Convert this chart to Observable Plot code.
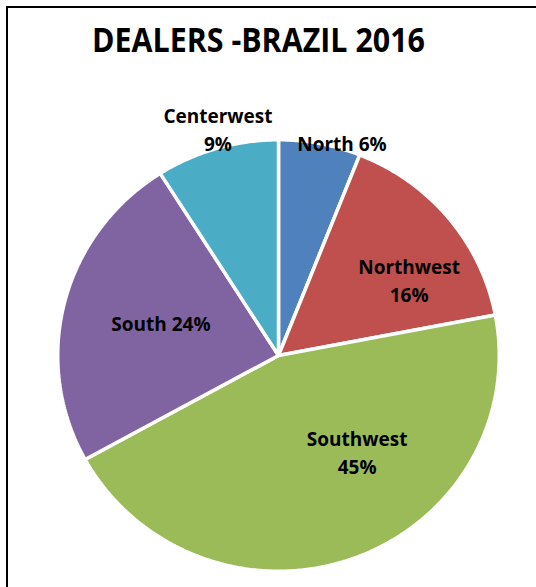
<!DOCTYPE html>
<html>
<head>
<meta charset="utf-8">
<script src="https://cdn.jsdelivr.net/npm/d3@7"></script>
<script src="https://cdn.jsdelivr.net/npm/@observablehq/plot@0.6"></script>
<style>
  html, body { margin: 0; padding: 0; background: #fff; overflow: hidden; width: 536px; height: 587px; }
  #frame { position: absolute; left: 6px; top: 6px; width: 700px; height: 700px;
           border-left: 2px solid #000; border-top: 2px solid #000; }
  #title { position: absolute; left: 0; top: 22px; width: 516px; text-align: center;
           font-family: "Open Sans", sans-serif; font-weight: 700; font-size: 33.5px; line-height: 34px;
           color: #000; white-space: nowrap; }
  #title span { display: inline-block; transform-origin: center; }
  #chart { position: absolute; left: 0; top: 0; }
</style>
</head>
<body>
<div id="frame"></div>
<div id="title"><span>DEALERS -BRAZIL 2016</span></div>
<div id="chart"></div>
<script>
// ---- data ----
const regions = ["North", "Northwest", "Southwest", "South", "Centerwest"];
const shares = [6, 16, 45, 24, 9];
const colors = ["#4F81BD", "#C0504D", "#9BBB59", "#8064A2", "#4BACC6"];
const labelStacked = [false, true, true, false, true];
// label placement (fraction of a turn clockwise from 12 o'clock, radius in pie radii)
const labelTurn = [0.045, 0.1645, 0.392, 0.795, 0.9595];
const labelRadius = [1.039, 0.694, 0.572, 0.559, 1.098];

// ---- geometry derived from data ----
const total = d3.sum(shares);
const R = 1.008;
const wedgePoints = [];
let cum = 0;
regions.forEach((region, i) => {
  const start = cum / total, end = (cum + shares[i]) / total;
  cum += shares[i];
  wedgePoints.push({region, x: 0, y: 0});
  const n = Math.max(2, Math.ceil((end - start) * 720));
  for (let k = 0; k <= n; k++) {
    const a = 2 * Math.PI * (start + (end - start) * k / n);
    wedgePoints.push({region, x: R * Math.sin(a), y: R * Math.cos(a)});
  }
});
const labels = regions.map((region, i) => {
  const a = 2 * Math.PI * labelTurn[i];
  return {
    region,
    text: labelStacked[i] ? `${region}\n${shares[i]}%` : `${region} ${shares[i]}%`,
    x: labelRadius[i] * Math.sin(a),
    y: labelRadius[i] * Math.cos(a)
  };
});

const cx = 278, cy = 355, rx = 219, ry = 214;
const chart = Plot.plot({
  width: 536,
  height: 587,
  margin: 0,
  x: {domain: [-1, 1], range: [cx - rx, cx + rx], axis: null},
  y: {domain: [-1, 1], range: [cy + ry, cy - ry], axis: null},
  color: {domain: regions, range: colors},
  style: {background: "transparent"},
  marks: [
    Plot.line(wedgePoints, {
      x: "x", y: "y", z: "region", fill: "region",
      stroke: "white", strokeWidth: 3.5, strokeLinejoin: "miter",
      curve: "linear-closed"
    }),
    Plot.text(labels, {
      x: "x", y: "y", text: "text",
      fontSize: 19, fontWeight: "bold", fontFamily: "Open Sans, sans-serif",
      fill: "black", lineHeight: 1.47
    })
  ]
});
document.getElementById("chart").appendChild(chart);

// fit the title width to the reference
const span = document.querySelector("#title span");
const w = span.getBoundingClientRect().width;
span.style.transform = `scaleX(${333 / w})`;
</script>
</body>
</html>
